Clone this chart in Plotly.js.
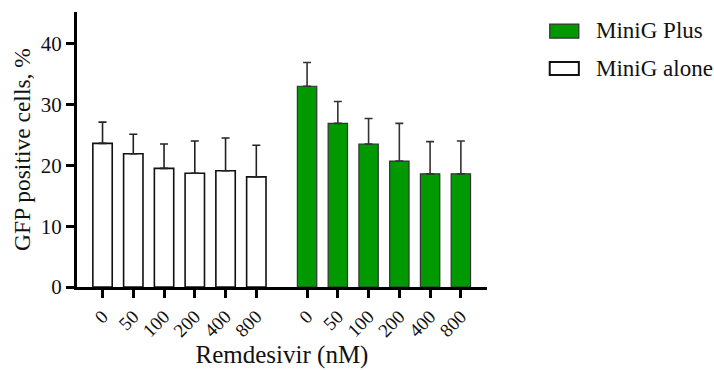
<!DOCTYPE html>
<html>
<head>
<meta charset="utf-8">
<script src="https://cdn.plot.ly/plotly-3.0.1.min.js"></script>
<style>
html,body{margin:0;padding:0;background:#fff;}
#chart{width:714px;height:370px;}
</style>
</head>
<body>
<div id="chart"></div>
<script>
// Data
const doses = ['0', '50', '100', '200', '400', '800'];
const aloneMean = [23.6, 21.9, 19.5, 18.7, 19.1, 18.1];
const aloneSD   = [3.5, 3.2, 4.0, 5.3, 5.4, 5.2];
const plusMean  = [33.0, 26.9, 23.5, 20.7, 18.6, 18.6];
const plusSD    = [3.9, 3.6, 4.2, 6.2, 5.3, 5.4];
const seriesNames = ['MiniG Plus', 'MiniG alone'];

// layout helpers: slot index positions, second group offset by a gap
const groupOffset = 6.65;
const xAlone = doses.map((d, i) => i);
const xPlus = doses.map((d, i) => i + groupOffset);
const zeros = doses.map(() => 0);

const FONT = 'Liberation Serif';
const GREEN = '#009900';

const traces = [
  {
    type: 'bar', name: seriesNames[1], x: xAlone, y: aloneMean, width: 0.63,
    marker: {color: '#ffffff', line: {color: '#111', width: 1.6}},
    error_y: {type: 'data', symmetric: false, array: aloneSD, arrayminus: zeros,
              color: '#222', thickness: 1.6, width: 4},
    showlegend: false, hoverinfo: 'none'
  },
  {
    type: 'bar', name: seriesNames[0], x: xPlus, y: plusMean, width: 0.63,
    marker: {color: GREEN, line: {color: '#333', width: 1.2}},
    error_y: {type: 'data', symmetric: false, array: plusSD, arrayminus: zeros,
              color: '#333', thickness: 1.6, width: 4},
    showlegend: false, hoverinfo: 'none'
  }
];

const layout = {
  width: 714, height: 370,
  margin: {l: 77, r: 227, t: 12, b: 83},
  paper_bgcolor: '#fff', plot_bgcolor: '#fff',
  font: {family: FONT, color: '#111'},
  xaxis: {
    range: [-0.83, 12.5],
    tickvals: xAlone.concat(xPlus),
    ticktext: doses.concat(doses),
    tickangle: -45,
    tickfont: {size: 19, family: FONT, color: '#111'},
    showline: true, linecolor: '#000', linewidth: 3,
    ticks: 'outside', ticklen: 8, tickwidth: 3, tickcolor: '#000',
    showgrid: false, zeroline: false,
    title: {text: 'Remdesivir (nM)', font: {size: 25, family: FONT, color: '#111'}, standoff: 1}
  },
  yaxis: {
    range: [0, 45.2],
    tickvals: [0, 10, 20, 30, 40],
    tickfont: {size: 21, family: FONT, color: '#111'},
    showline: true, linecolor: '#000', linewidth: 3,
    ticks: 'outside', ticklen: 8, tickwidth: 3, tickcolor: '#000',
    showgrid: false, zeroline: false,
    title: {text: 'GFP positive cells, %', font: {size: 23.5, family: FONT, color: '#111'}, standoff: 4}
  },
  shapes: [
    {type: 'rect', xref: 'paper', yref: 'paper', x0: 1.153, x1: 1.224, y0: 0.905, y1: 0.956,
     fillcolor: GREEN, line: {color: '#333', width: 1.2}},
    {type: 'rect', xref: 'paper', yref: 'paper', x0: 1.153, x1: 1.224, y0: 0.771, y1: 0.818,
     fillcolor: '#fff', line: {color: '#111', width: 2}}
  ],
  annotations: [
    {xref: 'paper', yref: 'paper', x: 1.262, y: 0.931, xanchor: 'left', yanchor: 'middle',
     text: seriesNames[0], showarrow: false, font: {size: 23, family: FONT, color: '#111'}},
    {xref: 'paper', yref: 'paper', x: 1.262, y: 0.793, xanchor: 'left', yanchor: 'middle',
     text: seriesNames[1], showarrow: false, font: {size: 23, family: FONT, color: '#111'}}
  ]
};

Plotly.newPlot('chart', traces, layout, {displayModeBar: false, staticPlot: true});
</script>
</body>
</html>
